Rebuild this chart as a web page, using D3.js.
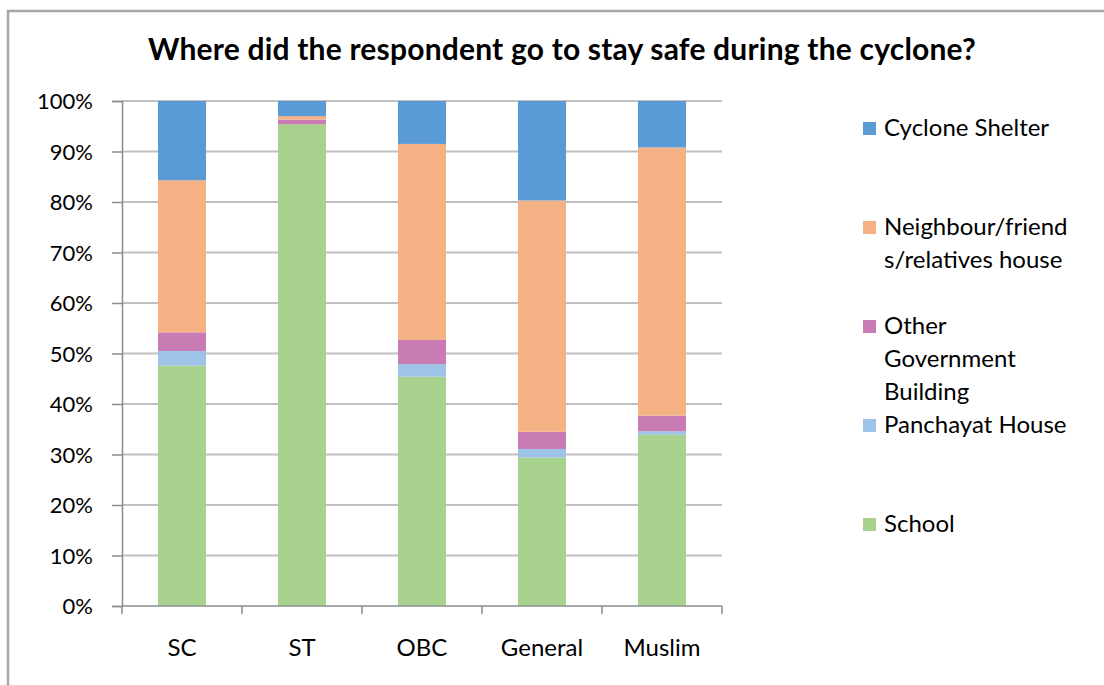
<!DOCTYPE html>
<html>
<head>
<meta charset="utf-8">
<script src="https://cdn.jsdelivr.net/npm/d3@7"></script>
<style>
  html, body { margin: 0; padding: 0; background: #fff; }
  svg { display: block; font-family: Lato, "Open Sans", sans-serif; }
</style>
</head>
<body>
<svg id="chart" width="1104" height="685"></svg>
<script>
// Share of respondents (%) by shelter type for each community group
const categories = ["SC", "ST", "OBC", "General", "Muslim"];
const seriesNames = ["School", "Panchayat House", "Other Government Building", "Neighbour/friends/relatives house", "Cyclone Shelter"];
const school       = [47.6, 95.4, 45.4, 29.4, 33.9];
const panchayat    = [2.9, 0.0, 2.5, 1.7, 0.7];
const otherGovt    = [3.7, 0.9, 4.8, 3.4, 3.1];
const neighbour    = [30.1, 0.7, 38.8, 45.8, 53.1];
const cyclone      = [15.7, 3.0, 8.5, 19.7, 9.2];
const yTicks = [0, 10, 20, 30, 40, 50, 60, 70, 80, 90, 100];
const colors = ["#a9d18e", "#9dc3e6", "#c97bb4", "#f4b183", "#5b9bd5"];

// Legend entries, top to bottom, with their wrapped lines
const legendItems = [
  { key: "Cyclone Shelter", lines: ["Cyclone Shelter"], color: colors[4] },
  { key: "Neighbour/friends/relatives house", lines: ["Neighbour/friend", "s/relatives house"], color: colors[3] },
  { key: "Other Government Building", lines: ["Other", "Government", "Building"], color: colors[2] },
  { key: "Panchayat House", lines: ["Panchayat House"], color: colors[1] },
  { key: "School", lines: ["School"], color: colors[0] }
];

const seriesValues = [school, panchayat, otherGovt, neighbour, cyclone];
const rows = categories.map((c, i) => {
  const r = { category: c };
  seriesNames.forEach((s, j) => { r[s] = seriesValues[j][i]; });
  return r;
});

const svg = d3.select("#chart");

// Outer chart frame
svg.append("rect")
  .attr("x", 8).attr("y", 11)
  .attr("width", 1110).attr("height", 690)
  .attr("fill", "none").attr("stroke", "#a6a6a6").attr("stroke-width", 2.5);

const plot = { left: 122, right: 722, top: 101, bottom: 606 };

const x = d3.scaleBand().domain(categories).range([plot.left, plot.right]).paddingInner(0.6).paddingOuter(0.3);
const xOuter = d3.scaleBand().domain(categories).range([plot.left, plot.right]);
const y = d3.scaleLinear().domain([0, 100]).range([plot.bottom, plot.top]);

// Title
svg.append("text")
  .attr("x", 562).attr("y", 60)
  .attr("text-anchor", "middle")
  .attr("font-size", 30).attr("font-weight", "bold").attr("fill", "#000")
  .attr("letter-spacing", 0.2)
  .text("Where did the respondent go to stay safe during the cyclone?");

// Horizontal gridlines
svg.append("g").selectAll("line").data(yTicks.filter(t => t > 0)).join("line")
  .attr("x1", plot.left).attr("x2", plot.right)
  .attr("y1", d => y(d)).attr("y2", d => y(d))
  .attr("stroke", "#c0c0c0").attr("stroke-width", 2);

// Stacked bars
const stack = d3.stack().keys(seriesNames)(rows);
svg.append("g").selectAll("g").data(stack).join("g")
  .attr("fill", (d, i) => colors[i])
  .selectAll("rect").data(d => d).join("rect")
  .attr("x", d => x(d.data.category))
  .attr("width", x.bandwidth())
  .attr("y", d => y(d[1]))
  .attr("height", d => y(d[0]) - y(d[1]));

// Y axis
const yAxis = d3.axisLeft(y).tickValues(yTicks).tickFormat(d => d + "%").tickSize(10).tickPadding(19);
const gy = svg.append("g").attr("transform", `translate(${plot.left},0)`).call(yAxis);
gy.select(".domain").attr("stroke", "#8c8c8c").attr("stroke-width", 1.5);
gy.selectAll(".tick line").attr("stroke", "#8c8c8c").attr("stroke-width", 1.5);
gy.selectAll(".tick text").attr("font-size", 22).attr("fill", "#000").attr("font-family", "Lato, sans-serif").attr("dy", "0.35em");

// X axis with tick marks at category boundaries
const gx = svg.append("g").attr("transform", `translate(0,${plot.bottom})`);
gx.append("line").attr("x1", plot.left).attr("x2", plot.right)
  .attr("stroke", "#8c8c8c").attr("stroke-width", 1.5);
const bounds = categories.map(c => xOuter(c)).concat([plot.right]);
gx.selectAll("line.tk").data(bounds).join("line").attr("class", "tk")
  .attr("x1", d => d).attr("x2", d => d).attr("y1", 0).attr("y2", 8)
  .attr("stroke", "#8c8c8c").attr("stroke-width", 1.5);
gx.selectAll("text").data(categories).join("text")
  .attr("x", d => xOuter(d) + xOuter.bandwidth() / 2)
  .attr("y", 42)
  .attr("dy", "0.35em")
  .attr("text-anchor", "middle")
  .attr("font-size", 24).attr("fill", "#000")
  .text(d => d);

// Legend
const legend = svg.append("g");
legendItems.forEach((item, i) => {
  const cy = 128 + i * 99;
  const g = legend.append("g");
  g.append("rect").attr("x", 863).attr("y", cy - 6).attr("width", 13).attr("height", 13).attr("fill", item.color);
  item.lines.forEach((ln, k) => {
    g.append("text").attr("x", 884).attr("y", cy + k * 33).attr("dy", "0.35em")
      .attr("font-size", 24).attr("fill", "#000").text(ln);
  });
});
</script>
</body>
</html>
